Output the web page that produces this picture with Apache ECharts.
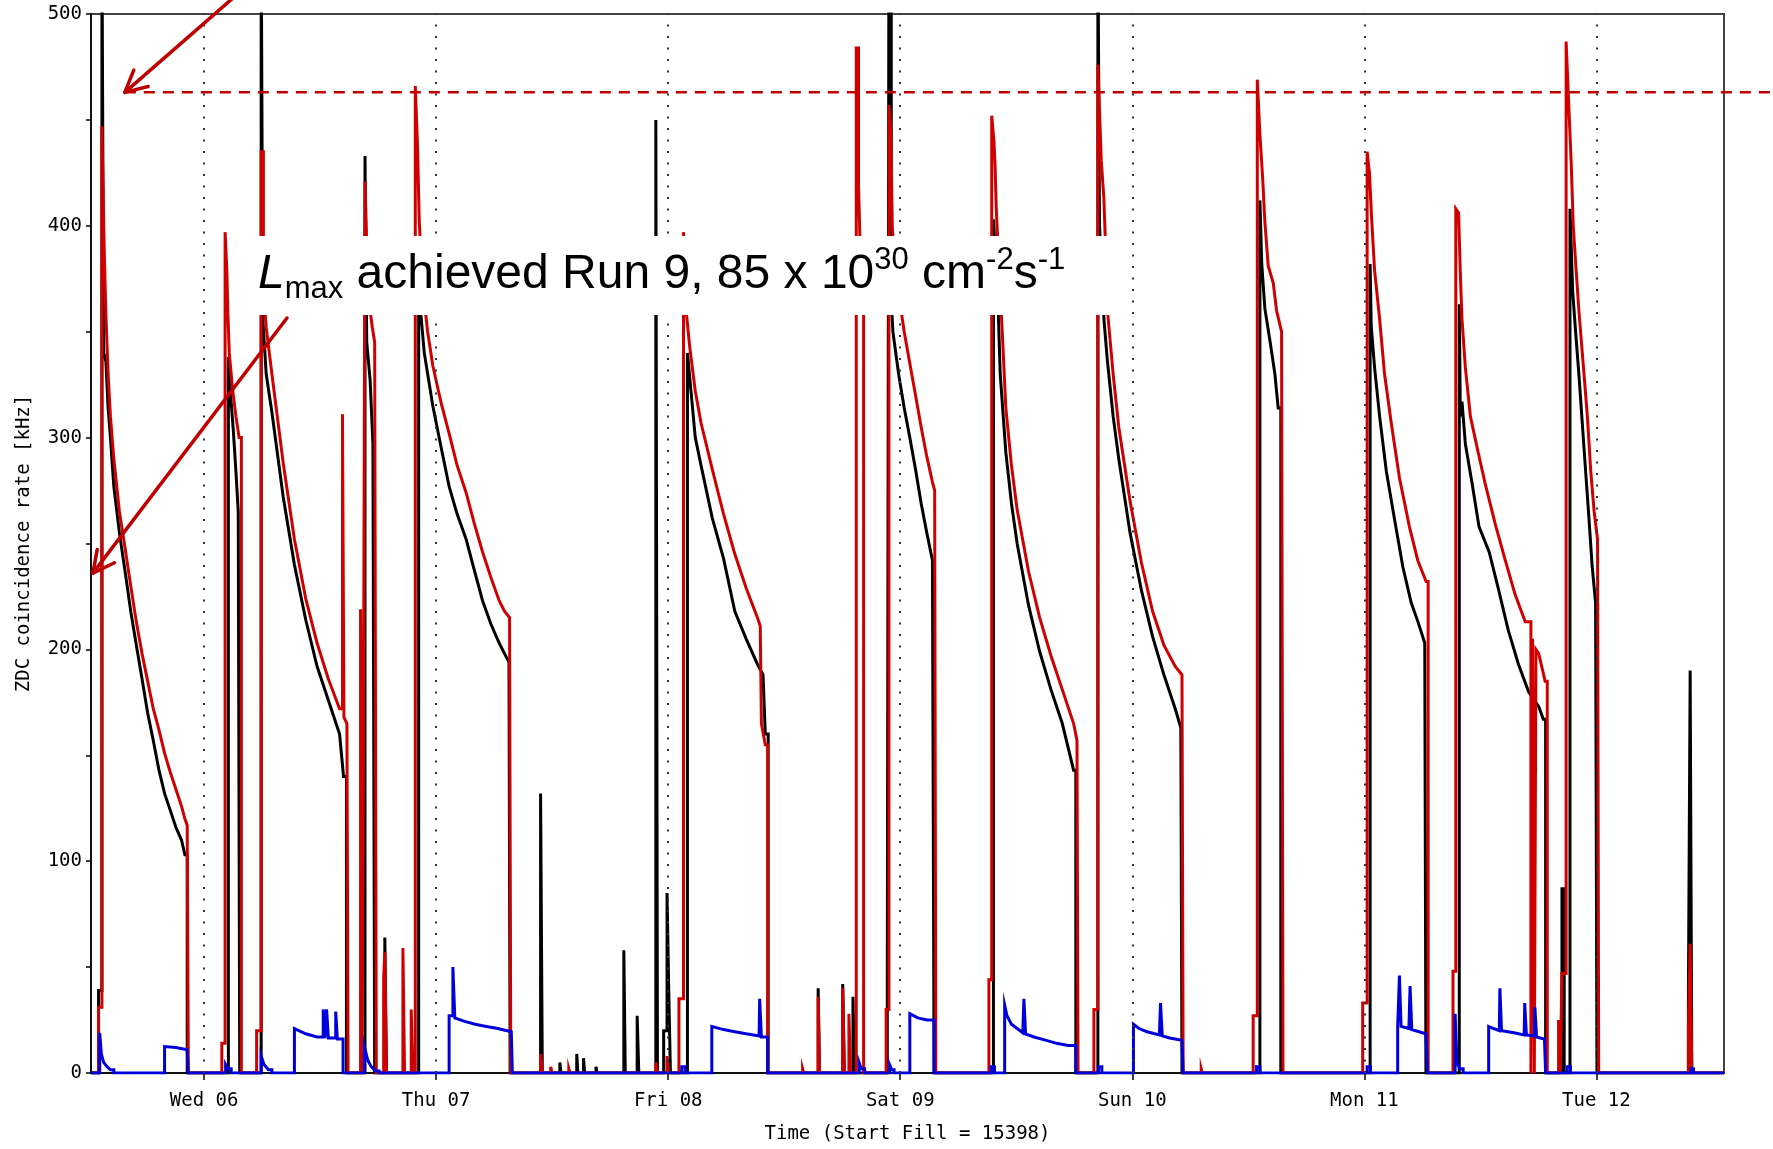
<!DOCTYPE html>
<html>
<head>
<meta charset="utf-8">
<script src="https://cdn.jsdelivr.net/npm/echarts@6/dist/echarts.min.js"></script>
<style>
  html, body { margin: 0; background: #fff; }
  #box { width: 1773px; height: 1149px; }
</style>
</head>
<body>
<div id="box"></div>
<script>
// time in hours since Tue 05 00:00, rate in kHz
const dayTicks = [24, 48, 72, 96, 120, 144, 168];
const dayLabels = ['Wed 06', 'Thu 07', 'Fri 08', 'Sat 09', 'Sun 10', 'Mon 11', 'Tue 12'];
const timeRange = [12.3, 181.2];
const lmaxRate = 463;

// ZDC coincidence rate (black)
const blackRate = [
  [12.3,0],[13.08,39],[13.43,540],[13.61,340],[13.84,336],[14.07,314],[14.31,300],[14.66,277],[15.24,255],[15.82,237],[16.41,218],[16.99,202],[17.58,186],[18.16,170],[18.74,157],[19.33,143],[19.91,132],[20.5,124],[21.08,116],[21.66,110],[22.01,103],[22.25,0],
  [26.51,338],[26.69,323],[27.01,304],[27.29,284],[27.53,265],[27.68,0],
  [29.9,540],[30.07,356],[30.42,330],[31.01,312],[32.18,272],[33.34,240],[34.51,214],[35.68,192],[36.85,176],[38.01,160],[38.42,140],[38.72,0],
  [40.64,433],[40.82,345],[41.17,327],[41.46,297],[41.64,0],
  [42.69,64],[42.86,0],
  [46.19,370],[46.77,340],[47.65,315],[48.53,295],[49.34,277],[50.16,264],[51.1,252],[51.91,238],[52.8,223],[53.66,212],[54.52,203],[55.07,198],[55.53,194],[55.65,0],
  [58.8,132],[58.98,0],[60.79,5],[60.91,0],[62.54,9],[62.66,0],[63.24,7],[63.36,0],[64.53,3],[64.64,0],[67.41,58],[67.56,0],[68.79,27],[68.96,0],[70.72,450],[70.89,0],[71.53,20],[71.88,85],[72.06,38],[72.23,0],
  [73.99,340],[74.8,300],[75.39,287],[76.56,262],[77.72,243],[78.89,218],[80.06,205],[81.23,193],[81.81,188],[82.04,160],[82.34,0],
  [87.51,40],[87.65,0],[90.05,42],[90.22,0],[91.11,36],[91.27,0],
  [94.66,46],[94.83,540],[95.07,365],[95.24,350],[95.83,330],[96.41,314],[96.99,300],[97.58,285],[98.16,269],[98.75,255],[99.33,242],[99.5,0],
  [105.64,403],[106.1,365],[106.34,330],[106.92,293],[107.5,269],[108.09,250],[109.26,221],[110.42,199],[111.59,181],[112.76,165],[113.93,143],[114.16,0],
  [116.44,540],[116.61,400],[117.08,355],[117.43,336],[118.02,310],[118.6,290],[119.77,255],[120.94,228],[122.1,206],[123.27,188],[124.44,172],[125.02,163],[125.14,0],
  [133.2,412],[133.39,382],[133.71,361],[134.23,346],[134.75,330],[135.09,314],[135.36,0],
  [144.6,382],[144.71,353],[145.06,333],[145.58,310],[146.28,284],[147.1,262],[147.98,239],[148.85,222],[149.55,213],[150.25,203],[150.37,0],
  [153.82,363],[153.93,310],[154.1,317],[154.45,297],[155.16,278],[155.86,258],[156.91,246],[157.84,229],[158.89,209],[159.94,193],[160.99,180],[162.04,173],[162.51,167],[162.75,0],
  [164.44,87],[164.67,0],
  [165.27,408],[165.55,369],[165.85,350],[166.19,330],[166.54,307],[166.89,284],[167.23,262],[167.57,239],[167.92,222],[168.06,0],
  [177.52,38],[177.7,190],[177.87,0],[181.2,0]
];

// red
const redRate = [
  [12.3,0],[13.08,31],[13.43,447],[13.66,390],[13.84,358],[14.07,330],[14.31,310],[14.66,290],[15.24,265],[15.82,248],[16.41,230],[16.99,213],[17.58,198],[18.16,185],[18.74,172],[19.33,162],[19.91,151],[20.5,142],[21.08,134],[21.66,126],[22.01,120],[22.25,117],[22.37,0],
  [25.83,14],[26.17,397],[26.34,380],[26.45,360],[26.6,340],[26.94,323],[27.29,310],[27.62,300],[27.85,0],
  [29.43,20],[29.9,435],[30.13,370],[30.42,352],[31.01,330],[32.18,288],[33.34,252],[34.51,224],[35.68,203],[36.85,186],[38.01,172],[38.31,311],[38.46,168],[38.77,165],[38.89,0],
  [40.18,219],[40.33,0],[40.47,150],[40.64,421],[40.88,380],[41.11,362],[41.4,352],[41.64,345],[41.81,0],
  [42.57,45],[42.69,57],[42.86,0],[44.56,59],[44.73,0],[45.42,30],[45.58,0],
  [45.84,466],[46.07,438],[46.25,402],[46.63,370],[47.12,350],[47.65,334],[48.53,316],[49.34,302],[50.16,287],[51.1,274],[51.91,260],[52.8,246],[53.66,234],[54.52,223],[55.07,218],[55.59,215],[55.72,0],
  [58.8,9],[58.98,0],[59.85,3],[59.97,0],[61.72,2],[61.84,0],[70.72,5],[70.89,0],[71.88,8],[72.06,0],
  [73.11,35],[73.58,397],[73.75,365],[74.22,343],[74.8,322],[75.39,307],[76.56,285],[77.72,264],[78.89,245],[80.06,229],[81.23,215],[81.52,211],[81.64,165],[82.04,155],[82.28,0],
  [85.9,2],[86.02,0],[87.51,36],[87.65,0],[90.05,40],[90.22,0],[90.69,28],[90.86,0],[91.45,484],[91.68,420],[91.91,380],[92.21,0],
  [94.54,30],[94.83,457],[95.01,446],[95.18,399],[95.48,380],[95.83,368],[96.41,350],[96.99,335],[97.58,320],[98.16,305],[98.75,291],[99.33,279],[99.56,275],[99.68,0],
  [105.17,44],[105.46,452],[105.69,440],[105.81,428],[105.93,408],[106.22,380],[106.57,348],[106.92,314],[107.5,287],[108.09,266],[109.26,237],[110.42,215],[111.59,197],[112.76,181],[113.93,165],[114.28,157],[114.39,0],
  [116.03,30],[116.44,476],[116.79,431],[117.06,413],[117.2,395],[117.43,360],[118.02,330],[118.6,305],[119.77,270],[120.94,241],[122.1,218],[123.27,202],[124.44,192],[125.14,188],[125.26,0],
  [127.13,2],[127.24,0],
  [132.5,27],[132.93,469],[133.2,443],[133.48,423],[133.71,402],[134.06,381],[134.58,373],[134.92,360],[135.44,350],[135.59,0],
  [143.83,33],[144.29,435],[144.53,425],[144.76,403],[145.06,379],[145.58,356],[146.09,330],[146.78,307],[147.63,281],[148.66,258],[149.53,242],[150.39,232],[150.6,0],
  [153.17,48],[153.46,408],[153.75,406],[153.94,376],[154.1,356],[154.45,333],[154.97,310],[155.82,292],[156.51,278],[157.55,259],[158.58,242],[159.59,226],[160.64,213],[161.23,0],[161.4,205],[161.58,0],[161.75,200],[162.04,198],[162.7,185],[162.92,0],
  [164.09,25],[164.26,0],[164.44,47],[164.87,487],[165.2,451],[165.41,428],[165.61,400],[165.85,383],[166.19,360],[166.72,330],[167.07,310],[167.42,284],[167.77,265],[168.12,252],[168.24,0],
  [177.52,22],[177.7,61],[177.87,0],[181.2,0]
];

// blue
const blueRate = [
  [12.3,0],[13.2,19],[13.37,9],[13.61,5],[13.96,3],[14.31,1.5],[14.66,0],
  [19.91,12.5],[21.08,12],[22.25,11],[22.37,0],
  [26.22,4],[26.45,2],[26.8,0],
  [29.9,8],[30.19,4],[30.66,1.5],[31.01,0],
  [33.34,21],[34.51,18.5],[35.68,17],[36.32,30],[36.5,16.5],[36.67,30],[36.85,16.5],[37.61,29],[37.78,16],[38.37,0],
  [40.58,12.5],[40.93,6],[41.28,3],[41.75,1],[42.1,0],
  [49.34,27],[49.73,50],[49.93,26],[50.86,24.5],[52.03,23],[53.2,22],[54.37,21],[55.77,19.5],[55.88,0],
  [73.4,3],[73.75,0],
  [76.51,22],[77.72,20.5],[78.89,19.5],[80.06,18.5],[81.4,17.5],[81.46,35],[81.64,17],[82.28,0],
  [91.74,5],[91.97,2],[92.32,0],
  [94.89,4],[95.12,1.5],[95.36,0],
  [96.99,28],[97.81,26],[98.75,25],[99.5,0],
  [105.4,3],[105.75,0],
  [106.8,32],[107.04,27],[107.5,23],[108.09,21],[108.67,19],[108.79,35],[108.96,18.5],[109.84,17],[111.01,15.5],[112.18,14],[113.34,13],[114.16,0],
  [116.5,3],[116.85,0],
  [120.12,23],[120.7,21],[121.52,19.5],[122.8,18],[122.92,33],[123.1,17.5],[123.86,16.5],[125.14,15.5],[125.26,0],
  [132.85,3],[133.2,0],
  [144.29,3],[144.64,0],
  [147.45,22],[147.63,46],[147.8,22],[148.61,21],[148.73,41],[148.91,20.5],[149.67,19.5],[150.37,18.5],[150.54,0],
  [153.39,28],[153.58,5],[153.87,2],[154.22,0],
  [156.86,22],[157.37,21],[157.96,20],[158.02,40],[158.19,20],[159.48,19],[160.53,18],[160.59,33],[160.76,18],[161.58,17.5],[161.64,31],[161.81,17],[162.63,16],[162.75,0],
  [164.97,3],[165.32,0],
  [177.81,2],[178.05,0],[181.2,0]
];

const mono = 'DejaVu Sans Mono';
const sans = 'Liberation Sans, Arial';

let chart = echarts.init(document.getElementById('box'));

// a sample holds its value until the next one, except inside a decaying
// fill, where neighbouring samples are joined directly
function holdPath(data) {
  let out = [data[0]];
  for (let i = 1; i < data.length; i++) {
    let v0 = data[i - 1][1], v1 = data[i][1];
    let decay = v0 > 0 && v1 > 0 && v1 <= v0 && v0 - v1 < 60;
    if (!decay) out.push([data[i][0], v0]);
    out.push(data[i]);
  }
  return out;
}

function rateSeries(name, data, color) {
  return {
    name: name,
    type: 'line',
    data: holdPath(data),
    showSymbol: false,
    symbol: 'none',
    lineStyle: { color: color, width: 3, join: 'miter' },
    silent: true
  };
}

let option = {
  animation: false,
  backgroundColor: '#fff',
  grid: {
    left: 91, right: 49, top: 14, bottom: 76,
    show: true, borderColor: '#444', borderWidth: 2, backgroundColor: '#fff'
  },
  xAxis: {
    type: 'value',
    min: timeRange[0],
    max: timeRange[1],
    name: 'Time (Start Fill = 15398)',
    nameLocation: 'middle',
    nameGap: 52,
    nameTextStyle: { fontFamily: mono, fontSize: 19, color: '#000' },
    axisLine: { show: true, lineStyle: { color: '#000', width: 1.5 } },
    axisTick: { show: true, customValues: dayTicks, length: 7, lineStyle: { color: '#000', width: 1.5 } },
    axisLabel: {
      customValues: dayTicks,
      formatter: v => dayLabels[dayTicks.indexOf(v)] || '',
      margin: 19,
      fontFamily: mono, fontSize: 19, color: '#000'
    },
    splitLine: { show: false }
  },
  yAxis: {
    type: 'value',
    min: 0,
    max: 500,
    interval: 100,
    name: 'ZDC coincidence rate [kHz]',
    nameLocation: 'middle',
    nameGap: 57,
    nameTextStyle: { fontFamily: mono, fontSize: 19, color: '#000' },
    axisLine: { show: true, lineStyle: { color: '#000', width: 1.5 } },
    axisTick: { show: true, length: 5, lineStyle: { color: '#000', width: 1.5 } },
    minorTick: { show: true, splitNumber: 2, length: 5, lineStyle: { color: '#000', width: 1.5 } },
    axisLabel: { margin: 9, fontFamily: mono, fontSize: 19, color: '#000' },
    splitLine: { show: false }
  },
  series: [
    {
      // day separators
      type: 'line',
      data: [],
      silent: true,
      markLine: {
        symbol: 'none',
        silent: true,
        label: { show: false },
        lineStyle: { color: '#333', width: 2, type: [2, 9.5] },
        data: dayTicks.map(d => ({ xAxis: d }))
      }
    },
    rateSeries('black', blackRate, '#000000'),
    rateSeries('red', redRate, '#d00000'),
    rateSeries('blue', blueRate, '#0000dd')
  ]
};

chart.setOption(option);

// annotations
function arrow(tail, tip) {
  let dx = tail[0] - tip[0], dy = tail[1] - tip[1];
  let len = Math.sqrt(dx * dx + dy * dy);
  let ux = dx / len, uy = dy / len;
  let a = 27 * Math.PI / 180, h = 24;
  let head = [a, -a].map(t => [
    tip[0] + h * (ux * Math.cos(t) - uy * Math.sin(t)),
    tip[1] + h * (ux * Math.sin(t) + uy * Math.cos(t))
  ]);
  let st = { stroke: '#c00000', lineWidth: 3.5, lineCap: 'round', lineJoin: 'round', fill: null };
  return [
    { type: 'line', z: 102, shape: { x1: tail[0], y1: tail[1], x2: tip[0], y2: tip[1] }, style: st },
    { type: 'polyline', z: 102, shape: { points: [head[0], tip, head[1]] }, style: st }
  ];
}

let tip1 = chart.convertToPixel({ gridIndex: 0 }, [15.8, lmaxRate]);
let tip2 = chart.convertToPixel({ gridIndex: 0 }, [12.5, 236]);

let graphics = [
  {
    type: 'line', z: 101,
    shape: { x1: tip1[0], y1: tip1[1], x2: chart.getWidth(), y2: tip1[1] },
    style: { stroke: '#c00000', lineWidth: 2.5, lineDash: [11, 8] }
  },
  {
    type: 'rect', z: 100,
    shape: { x: 251, y: 236, width: 859, height: 79 },
    style: { fill: '#fff' }
  },
  {
    type: 'text', z: 103,
    x: 258, y: 245,
    style: {
      text: '{i|L}{sub|max}{n| achieved Run 9, 85 x 10}{sup|30}{n| cm}{sup|-2}{n|s}{sup|-1}',
      fill: '#000',
      verticalAlign: 'top',
      rich: {
        i: { fontSize: 48, fontStyle: 'italic', lineHeight: 60, fontFamily: sans, fill: '#000' },
        n: { fontSize: 48, lineHeight: 60, fontFamily: sans, fill: '#000' },
        sub: { fontSize: 31, lineHeight: 30, verticalAlign: 'bottom', fontFamily: sans, fill: '#000' },
        sup: { fontSize: 31, lineHeight: 40, verticalAlign: 'top', fontFamily: sans, fill: '#000' }
      }
    }
  }
];
graphics = graphics.concat(arrow([233, -2], tip1), arrow([287, 318], tip2));

chart.setOption({ graphic: graphics });
</script>
</body>
</html>
